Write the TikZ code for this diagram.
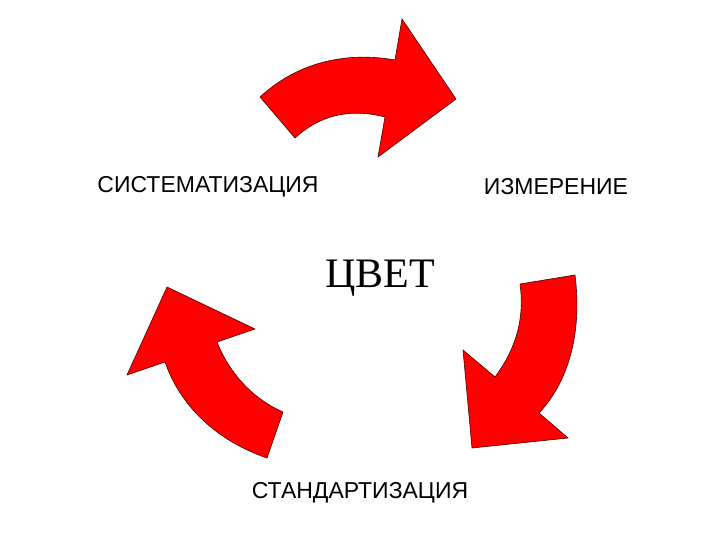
\documentclass[tikz,border=0pt]{standalone}
\usepackage{fontspec}
\setmainfont{Liberation Sans}
\newfontfamily\serifru{Liberation Serif}
\begin{document}
\begin{tikzpicture}[x=1pt,y=-1pt,
  arr/.style={fill=red,draw=black!70!red,line width=0.6pt,line join=miter},
  lbl/.style={font=\fontsize{23}{26}\selectfont,inner sep=0pt}]
\useasboundingbox (0,0) rectangle (720,540);
\fill[white] (0,0) rectangle (720,540);
% top arrow
\draw[arr] (260,97) .. controls (300,60) and (350,52) .. (395,60)
  -- (402,19) -- (456,99) -- (378,157) -- (385,117)
  .. controls (350,108) and (320,115) .. (295,138) -- cycle;
% right arrow
\draw[arr] (520,284) -- (575,275) .. controls (582,330) and (570,380) .. (539,413)
  -- (568,438) -- (472,448) -- (463,350) -- (495,377)
  .. controls (515,350) and (525,320) .. (520,284) -- cycle;
% left arrow
\draw[arr] (167,287) -- (255,329) -- (217,342)
  .. controls (230,375) and (255,400) .. (283,412) -- (267,458)
  .. controls (215,440) and (180,405) .. (165,362) -- (127,375) -- cycle;
\node[lbl] (sys) at (208,187) {СИСТЕМАТИЗАЦИЯ};
\node[lbl] (izm) at (556,187) {ИЗМЕРЕНИЕ};
\node[lbl] (std) at (360,493) {СТАНДАРТИЗАЦИЯ};
\node[inner sep=0pt,font=\serifru\fontsize{42}{46}\selectfont] (cvet) at (380,278) {ЦВЕТ};
\end{tikzpicture}
\end{document}
